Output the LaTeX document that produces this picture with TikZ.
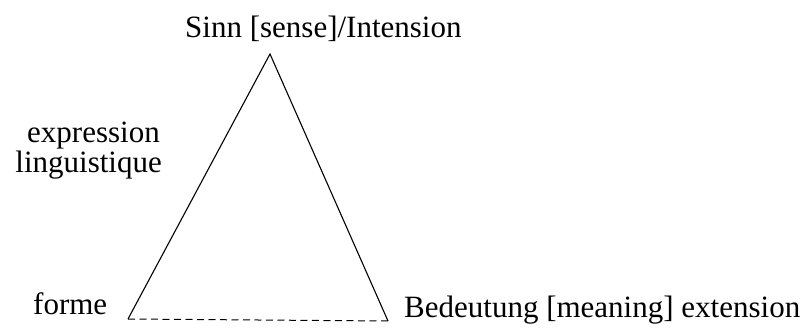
\documentclass[tikz,border=0pt]{standalone}
\usepackage{fontspec}
\setmainfont{Liberation Serif}
\begin{document}
\begin{tikzpicture}[x=1pt,y=-1pt,
  lbl/.style={inner sep=0pt,anchor=base west,font=\fontsize{31}{37}\selectfont},
  lblr/.style={lbl,anchor=base east},
  side/.style={line width=1.1pt,line join=miter},
  base/.style={line width=1pt,dash pattern=on 7pt off 4.5pt,black}]
\useasboundingbox (0,0) rectangle (803,328);
\coordinate (apex) at (270,54);
\coordinate (bl) at (128,319);
\coordinate (br) at (388,321);
\draw[side] (bl) -- (apex) -- (br);
\draw[base] (bl) -- (br);
\node[lbl] (sinn) at (185,38) {Sinn [sense]/Intension};
\node[lblr] (expr) at (160,143) {expression};
\node[lblr] (ling) at (162,173) {linguistique};
\node[lbl] (forme) at (33,315) {forme};
\node[lbl] (bed) at (404,318) {Bedeutung [meaning] extension};
\end{tikzpicture}
\end{document}
